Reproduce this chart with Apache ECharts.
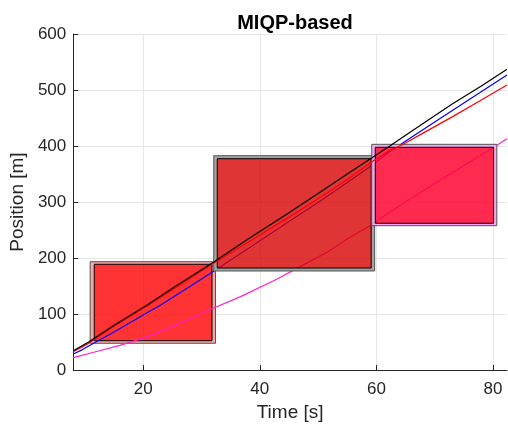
<!DOCTYPE html>
<html>
<head>
<meta charset="utf-8">
<script src="https://cdn.jsdelivr.net/npm/echarts@6/dist/echarts.min.js"></script>
<style>
html,body{margin:0;padding:0;background:#fff;}
#chart{width:508px;height:429px;}
</style>
</head>
<body>
<div id="chart"></div>
<script>
// ---- data ----
const xTicks = [20, 40, 60, 80];
const yTicks = [0, 100, 200, 300, 400, 500, 600];
// trajectories [time, position]
const blackPos = [[8,34.5],[10.7,50.5],[15,80],[20.8,117],[25,146],[32.1,193],[38,234],[45,281],[50,315],[55,350],[59.5,381],[62.3,400],[64,412],[68,440],[73,475],[78,507],[82.4,537]];
const bluePos = [[8,28.6],[9.5,36],[11.5,47.7],[15,68],[20.8,103],[23,116],[28,149],[32.4,178.6],[38,217],[45,265],[50,299],[55,335],[58.9,363],[62,388],[64.9,408],[70,443],[75,477],[82.4,527]];
const redPos = [[8,32.7],[10.7,48],[15,78],[20.8,115],[25,143],[32,190],[38,228],[45,273],[50,306],[55,340],[59.2,372],[62,390],[64.9,405],[68,423],[73,452],[78,482],[82.4,509]];
const magentaPos = [[8,22],[12,33],[16,44],[20,57],[24,73],[28,91],[31.5,108],[36.7,131],[42.9,162],[47,185],[51.5,210],[55,234],[59.1,259],[62,280],[66,307],[70,333],[75,365],[80,397],[82.4,413]];
// occupancy boxes: [tStart, tEnd, posLow, posHigh]
const boxOuter = [[10.9,32.4,47.7,193.4],[32.1,59.7,176.8,382.7],[59.2,80.65,257.7,403]];
const boxInner = [[11.6,31.8,52.3,188.8],[32.7,59.1,182.1,377.3],[59.8,80.1,262,397.7]];

// ---- styles ----
const boxStyles = [
  {band:'#f7a4a4', fill:'rgba(255,0,0,0.8)'},
  {band:'#a2a2a2', fill:'rgba(216,3,3,0.8)'},
  {band:'#f2a8f2', fill:'rgba(255,5,49,0.85)'}
];

function boxSeries(i, z) {
  return {
    type: 'custom',
    z: z,
    clip: true,
    data: [boxOuter[i].concat(boxInner[i])],
    renderItem: function (params, api) {
      const a = api.coord([api.value(0), api.value(3)]);
      const b = api.coord([api.value(1), api.value(2)]);
      const c = api.coord([api.value(4), api.value(7)]);
      const d = api.coord([api.value(5), api.value(6)]);
      const st = boxStyles[i];
      const ox = a[0], oy = a[1], ow = b[0] - a[0], oh = b[1] - a[1];
      const ix = c[0], iy = c[1], iw = d[0] - c[0], ih = d[1] - c[1];
      return {
        type: 'group',
        children: [
          {type:'rect', shape:{x:ox, y:oy, width:ow, height:iy-oy}, style:{fill:st.band}},
          {type:'rect', shape:{x:ox, y:iy+ih, width:ow, height:oy+oh-(iy+ih)}, style:{fill:st.band}},
          {type:'rect', shape:{x:ox, y:iy, width:ix-ox, height:ih}, style:{fill:st.band}},
          {type:'rect', shape:{x:ix+iw, y:iy, width:ox+ow-(ix+iw), height:ih}, style:{fill:st.band}},
          {type:'rect', shape:{x:ox, y:oy, width:ow, height:oh}, style:{fill:null, stroke:'#555555', lineWidth:1}},
          {type:'rect', shape:{x:ix, y:iy, width:iw, height:ih}, style:{fill:st.fill, stroke:'#000000', lineWidth:1}}
        ]
      };
    }
  };
}

function lineSeries(data, color, z) {
  return {
    type: 'line', data: data, z: z, showSymbol: false, symbol: 'none',
    lineStyle: {color: color, width: 1.2}, animation: false, silent: true
  };
}

const chart = echarts.init(document.getElementById('chart'), null, {renderer: 'canvas'});
const font = 'Liberation Sans, Arial, Helvetica, sans-serif';
chart.setOption({
  animation: false,
  backgroundColor: '#ffffff',
  title: {
    text: 'MIQP-based', left: 290, top: 8, textAlign: 'center',
    textStyle: {fontFamily: font, fontSize: 20, fontWeight: 'bold', color: '#000'}
  },
  grid: {left: 72, top: 34, right: 1, bottom: 59, containLabel: false},
  xAxis: {
    type: 'value', min: 8, max: 82.4,
    name: 'Time [s]', nameLocation: 'middle', nameGap: 33,
    nameTextStyle: {fontFamily: font, fontSize: 19, color: '#262626'},
    axisLine: {show: true, onZero: false, lineStyle: {color: '#262626', width: 1}},
    axisTick: {show: true, inside: true, length: 5, customValues: xTicks, lineStyle: {color: '#262626'}},
    axisLabel: {customValues: xTicks, fontFamily: font, fontSize: 17, color: '#262626', margin: 11},
    splitLine: {show: true, lineStyle: {color: '#e6e6e6', width: 1}}
  },
  yAxis: {
    type: 'value', min: 0, max: 600, interval: 100,
    name: 'Position [m]', nameLocation: 'middle', nameGap: 45,
    nameTextStyle: {fontFamily: font, fontSize: 19, color: '#262626'},
    axisLine: {show: true, lineStyle: {color: '#262626', width: 1}},
    axisTick: {show: true, inside: true, length: 5, lineStyle: {color: '#262626'}},
    axisLabel: {fontFamily: font, fontSize: 17, color: '#262626', margin: 7,
      formatter: function (v) { return yTicks.indexOf(v) >= 0 ? String(v) : ''; }},
    splitLine: {show: true, lineStyle: {color: '#e6e6e6', width: 1}}
  },
  series: [
    boxSeries(0, 1),
    lineSeries(bluePos, '#0000ff', 2),
    lineSeries(magentaPos, '#ff22cc', 2),
    boxSeries(1, 3),
    boxSeries(2, 3),
    lineSeries(redPos, '#ff0000', 4),
    lineSeries(blackPos, '#000000', 5)
  ]
});
</script>
</body>
</html>
